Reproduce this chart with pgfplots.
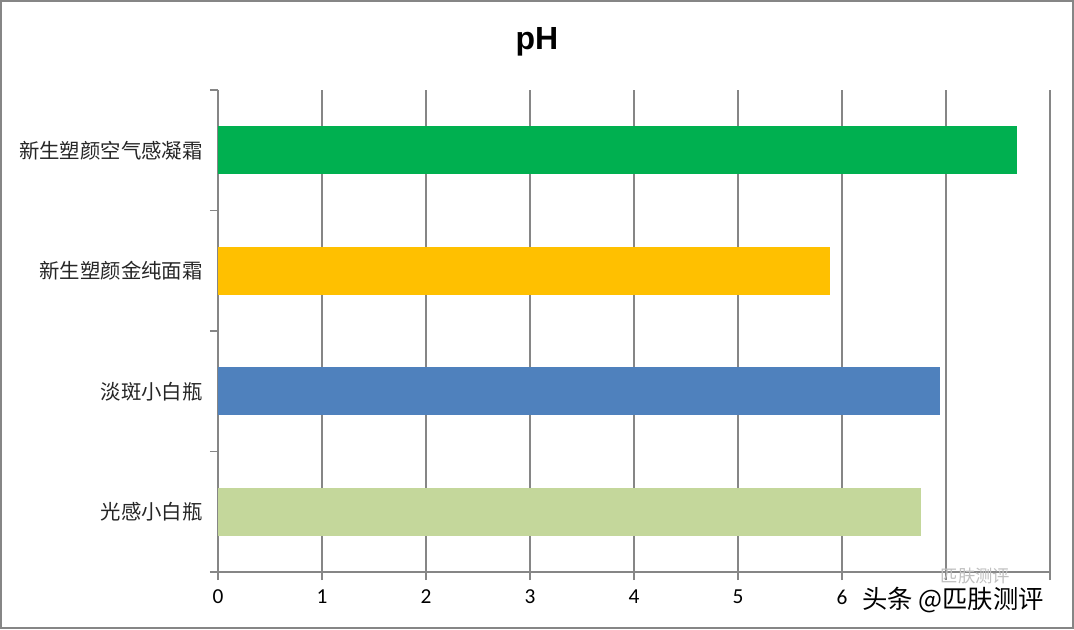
\documentclass[border=0pt]{standalone}
\usepackage{fontspec}
\setmainfont{Carlito}
\newfontfamily\cjk{Noto Sans CJK SC}
\newfontfamily\titlefont{Liberation Sans}
\newfontfamily\tickfont{Carlito}
\usepackage{pgfplots}
\pgfplotsset{compat=1.18}
\definecolor{cgreen}{HTML}{00B050}
\definecolor{cyellow}{HTML}{FFC000}
\definecolor{cblue}{HTML}{4F81BD}
\definecolor{clight}{HTML}{C4D79B}
\definecolor{cgray}{HTML}{868686}
\newcommand{\tl}[1]{{\tickfont\fontsize{16}{18}\selectfont #1}}
\begin{document}
\begin{tikzpicture}[x=0.75pt,y=0.75pt]
\path[use as bounding box] (0,0) rectangle (1074,629);
\draw[color=cgray, line width=1.5pt] (1,1) rectangle (1073,628);
\node[font=\titlefont\bfseries\fontsize{24}{28}\selectfont] at (537,587) {pH};
\begin{axis}[
  at={(163.5pt,42.75pt)}, anchor=south west, scale only axis,
  width=624pt, height=361.5pt,
  xmin=0, xmax=8, ymin=-0.5, ymax=3.5,
  xbar, bar width=36pt, bar shift=0pt,
  axis lines=left, axis line style={-, draw=cgray, line width=1.2pt},
  tick align=outside, major tick length=6pt,
  tick style={draw=cgray, line width=1pt},
  xtick={0,...,8}, xticklabels={\tl{0},\tl{1},\tl{2},\tl{3},\tl{4},\tl{5},\tl{6},{},{}},
  xmajorgrids=true, grid style={draw=cgray, line width=0.9pt},
  ymajorgrids=false,
  ytick={-0.5,0.5,1.5,2.5,3.5}, yticklabels={},
  extra y ticks={0,1,2,3},
  extra y tick labels={光感小白瓶,淡斑小白瓶,新生塑颜金纯面霜,新生塑颜空气感凝霜},
  extra y tick style={major tick length=0pt, yticklabel style={font=\cjk\fontsize{15.3}{17}\selectfont, text=black!85, xshift=-8pt}},
  /pgf/number format/assume math mode=true,
  x tick label style={yshift=-4pt},
]
\addplot[fill=clight, draw=none] coordinates {(6.76,0)};
\addplot[fill=cblue, draw=none] coordinates {(6.94,1)};
\addplot[fill=cyellow, draw=none] coordinates {(5.88,2)};
\addplot[fill=cgreen, draw=none] coordinates {(7.68,3)};
\end{axis}
\node[font=\cjk\fontsize{13}{15}\selectfont, text=black!25, anchor=west] at (936,53) {匹肤测评};
\node[font=\cjk\fontsize{19}{21}\selectfont, text=black, anchor=west, inner sep=0pt] at (862,29) {头条 @匹肤测评};
\end{tikzpicture}
\end{document}
